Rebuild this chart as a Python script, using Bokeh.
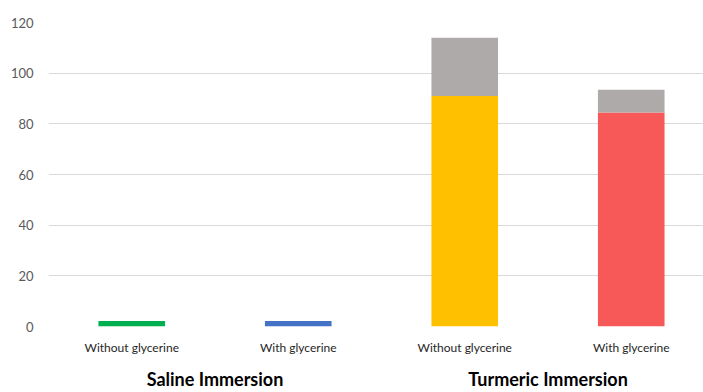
from bokeh.plotting import figure
from bokeh.models import ColumnDataSource, Range1d, FixedTicker, LinearAxis
from bokeh.embed import file_html
from bokeh.resources import INLINE

# ---- data ----
groups = ["Saline Immersion", "Turmeric Immersion"]
categories = ["Without glycerine", "With glycerine", "Without glycerine", "With glycerine"]
base_values = [2.2, 2.2, 91, 84.5]
extra_values = [0, 0, 23, 9]
base_colors = ["#00b050", "#4472c4", "#ffc000", "#f75959"]
extra_color = "#aeaaaa"
y_ticks = [0, 20, 40, 60, 80, 100, 120]

xs = [i + 0.5 for i in range(len(categories))]
tops = [b + e for b, e in zip(base_values, extra_values)]
group_xs = [(xs[2 * i] + xs[2 * i + 1]) / 2 for i in range(len(groups))]

src = ColumnDataSource(dict(x=xs, base=base_values, top=tops, color=base_colors))

p = figure(width=703, height=392, output_backend="svg", toolbar_location=None,
           x_range=Range1d(0, 3.934), y_range=Range1d(0, 120),
           min_border_left=48, min_border_right=0, min_border_top=22, min_border_bottom=66)
p.outline_line_color = None
p.background_fill_color = "white"
p.border_fill_color = "white"

p.vbar(x="x", top="base", bottom=0, width=0.4, fill_color="color", line_color=None, source=src)
p.vbar(x="x", top="top", bottom="base", width=0.4, fill_color=extra_color, line_color=None, source=src)

# y axis
p.yaxis.ticker = FixedTicker(ticks=y_ticks)
p.yaxis.axis_line_color = None
p.yaxis.major_tick_line_color = None
p.yaxis.major_tick_out = 0
p.yaxis.minor_tick_line_color = None
p.yaxis.major_label_standoff = 15
p.yaxis.major_label_text_font = "Lato"
p.yaxis.major_label_text_font_size = "13px"
p.yaxis.major_label_text_color = "#595959"
p.ygrid.grid_line_color = "#d9d9d9"
p.ygrid.grid_line_width = 1
p.xgrid.grid_line_color = None

# category axis
p.xaxis.ticker = FixedTicker(ticks=xs)
p.xaxis.major_label_overrides = {x: c for x, c in zip(xs, categories)}
p.xaxis.axis_line_color = None
p.xaxis.major_tick_line_color = None
p.xaxis.major_tick_out = 0
p.xaxis.minor_tick_line_color = None
p.xaxis.major_label_standoff = 13
p.xaxis.major_label_text_font = "Lato"
p.xaxis.major_label_text_font_size = "12px"
p.xaxis.major_label_text_color = "#262626"

# group axis
gax = LinearAxis(ticker=FixedTicker(ticks=group_xs),
                 major_label_overrides={x: g for x, g in zip(group_xs, groups)},
                 axis_line_color=None, major_tick_line_color=None, minor_tick_line_color=None,
                 major_tick_out=0, major_label_standoff=10,
                 major_label_text_font="Lato", major_label_text_font_style="bold",
                 major_label_text_font_size="18px", major_label_text_color="#000000")
p.add_layout(gax, "below")

open("out.html", "w").write(file_html(p, INLINE))
